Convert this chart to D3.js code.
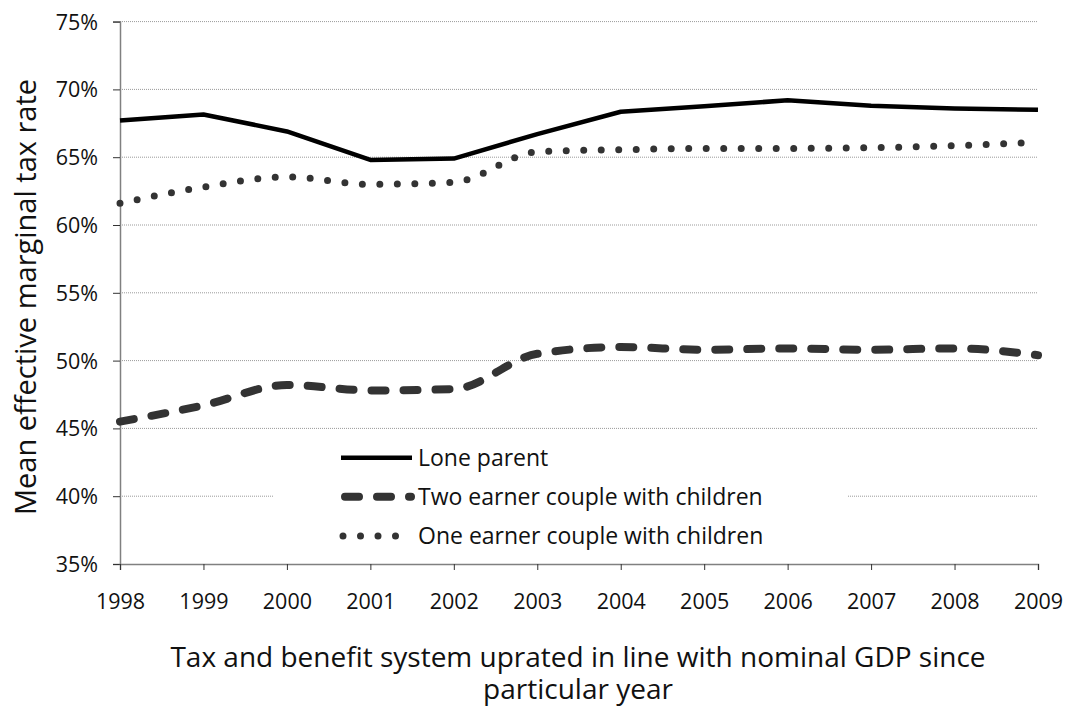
<!DOCTYPE html>
<html><head><meta charset="utf-8">
<script src="https://cdn.jsdelivr.net/npm/d3@7"></script>
<style>body{margin:0;background:#fff;} text{font-family:"Open Sans","Noto Sans",sans-serif;}</style>
</head><body>
<svg id="c" width="1070" height="706"></svg>
<script>
const years = [1998,1999,2000,2001,2002,2003,2004,2005,2006,2007,2008,2009];
const loneParent = [67.7,68.15,66.9,64.8,64.9,66.7,68.35,68.75,69.2,68.8,68.6,68.5];
const twoEarner = [45.5,46.7,48.2,47.8,47.9,50.5,51.0,50.8,50.9,50.8,50.9,50.4];
const oneEarner = [61.6,62.8,63.55,63.0,63.15,65.4,65.55,65.65,65.65,65.7,65.85,66.1];
const yTicks = [35,40,45,50,55,60,65,70,75];
const seriesNames = ["Lone parent","Two earner couple with children","One earner couple with children"];
const xTitleLines = ["Tax and benefit system uprated in line with nominal GDP since","particular year"];

const svg = d3.select("#c");
const L=120, R=1038, T=21.6, B=564;
const x = d3.scalePoint().domain(years).range([L,R]);
const y = d3.scaleLinear().domain([35,75]).range([B,T]);

// gridlines
svg.append("g").selectAll("line").data(yTicks.filter(d=>d>35)).join("line")
  .attr("x1",L).attr("x2",R).attr("y1",d=>y(d)).attr("y2",d=>y(d))
  .attr("stroke","#9a9a9a").attr("stroke-width",1).attr("stroke-dasharray","1,1");

// axes
const yAxis = svg.append("g").attr("transform",`translate(${L},0)`)
  .call(d3.axisLeft(y).tickValues(yTicks).tickFormat(d=>d+"%").tickSize(7).tickPadding(15));
const xAxis = svg.append("g").attr("transform",`translate(0,${B})`)
  .call(d3.axisBottom(x).tickSize(6).tickPadding(24));
[yAxis,xAxis].forEach(a=>{
  a.attr("font-size",null).attr("font-family",null);
  a.select(".domain").attr("stroke","#808080").attr("stroke-width",1.5);
  a.selectAll(".tick line").attr("stroke","#333").attr("stroke-width",1);
  a.selectAll(".tick text").attr("fill","#111").style("font-size","21.5px");
});
yAxis.selectAll(".tick text").attr("dy","0.35em");

const lineS = d3.line().x((d,i)=>x(years[i])).y(d=>y(d)).curve(d3.curveMonotoneX);
const lineL = d3.line().x((d,i)=>x(years[i])).y(d=>y(d)).curve(d3.curveLinear);
const styles = [
  {data:loneParent, stroke:"#000", w:4.5, dash:null, cap:"butt", gen:lineL},
  {data:twoEarner, stroke:"#333", w:8, dash:"14,18", cap:"round", gen:lineS},
  {data:oneEarner, stroke:"#333", w:7, dash:"0,17.5", cap:"round", gen:lineS}
];
[2,1,0].forEach(k=>{
  const s=styles[k];
  svg.append("path").datum(s.data).attr("d",s.gen).attr("fill","none")
    .attr("stroke",s.stroke).attr("stroke-width",s.w)
    .attr("stroke-dasharray",s.dash).attr("stroke-linecap",s.cap).attr("stroke-linejoin","round");
});

// legend
const lg = svg.append("g");
lg.append("rect").attr("x",273).attr("y",436).attr("width",574).attr("height",120).attr("fill","#fff");
const rowsY=[457.7,496.7,536];
seriesNames.forEach((n,i)=>{
  const s=styles[i];
  const yy=rowsY[i];
  lg.append("line").attr("x1",i==1?345:(i==2?343:341)).attr("x2",i==0?412:(i==1?411:405)).attr("y1",yy).attr("y2",yy)
    .attr("stroke",s.stroke).attr("stroke-width",s.w).attr("stroke-dasharray",s.dash).attr("stroke-linecap",s.cap);
  lg.append("text").attr("x",418).attr("y",yy).attr("dy","0.35em")
    .attr("fill","#111").style("font-size","23px").text(n);
});

// axis titles
svg.append("text").attr("transform","translate(36,297) rotate(-90)").attr("text-anchor","middle")
  .attr("fill","#111").style("font-size","29px").text("Mean effective marginal tax rate");
const xt = svg.append("text").attr("text-anchor","middle").attr("fill","#111").style("font-size","28px");
xTitleLines.forEach((t,i)=>{
  xt.append("tspan").attr("x",578).attr("y",667+i*32).text(t);
});
</script>
</body></html>
